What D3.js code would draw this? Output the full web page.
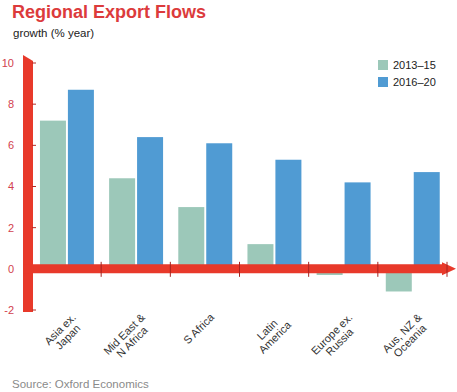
<!DOCTYPE html>
<html>
<head>
<meta charset="utf-8">
<script src="https://cdn.jsdelivr.net/npm/d3@7"></script>
<style>
  body { margin: 0; background: #fff; }
  svg { display: block; font-family: "Liberation Sans", Arial, sans-serif; }
</style>
</head>
<body>
<svg width="457" height="392"></svg>
<script>
// data
const categories = [
    ["Asia ex.", "Japan"],
    ["Mid East &", "N Africa"],
    ["S Africa"],
    ["Latin", "America"],
    ["Europe ex.", "Russia"],
    ["Aus, NZ &", "Oceania"]
];
const seriesNames = ["2013–15", "2016–20"];
const values2013 = [7.2, 4.4, 3.0, 1.2, -0.3, -1.1];
const values2016 = [8.7, 6.4, 6.1, 5.3, 4.2, 4.7];
const yTicks = [-2, 0, 2, 4, 6, 8, 10];

const colors = { "2013–15": "#9cc8b9", "2016–20": "#509bd3" };
const red = "#e8392a";

const svg = d3.select("svg");

const rows = categories.map((c, i) => ({
    key: c.join(" "),
    lines: c,
    vals: [values2013[i], values2016[i]]
}));

const x0 = d3.scaleBand()
    .domain(rows.map(d => d.key))
    .range([32, 447]);

const bw = x0.bandwidth();
const x1 = d3.scaleBand()
    .domain(seriesNames)
    .range([bw * 0.115, bw * 0.895])
    .paddingInner(0.07);

const y = d3.scaleLinear()
    .domain([-2, 10])
    .range([310, 63]);

// title + subtitle
svg.append("text")
    .attr("x", 12).attr("y", 18)
    .style("font-size", "18px")
    .style("font-weight", "bold")
    .style("fill", "#dc3b3c")
    .text("Regional Export Flows");

svg.append("text")
    .attr("x", 13).attr("y", 37)
    .style("font-size", "11.5px")
    .style("fill", "#222")
    .text("growth (% year)");

// bars
const groups = svg.append("g")
    .selectAll("g")
    .data(rows)
    .enter()
    .append("g")
    .attr("transform", d => `translate(${x0(d.key)},0)`);

groups.selectAll("rect")
    .data(d => d.vals.map((v, i) => ({ name: seriesNames[i], v })))
    .enter()
    .append("rect")
    .attr("x", d => x1(d.name))
    .attr("width", x1.bandwidth())
    .attr("y", d => y(Math.max(0, d.v)))
    .attr("height", d => Math.abs(y(d.v) - y(0)))
    .style("fill", d => colors[d.name]);

// y axis: thick red bar with slanted top
const yAxisG = svg.append("g");
yAxisG.append("path")
    .attr("d", `M23,${y(10) - 8}L33,${y(10) - 2}L33,${y(-2) + 2}L23,${y(-2) + 2}Z`)
    .style("fill", red);

yAxisG.selectAll("line")
    .data(yTicks)
    .enter()
    .append("line")
    .attr("x1", 32).attr("x2", 36)
    .attr("y1", d => y(d)).attr("y2", d => y(d))
    .style("stroke", "#b52a25")
    .style("stroke-width", 1);

yAxisG.selectAll("text")
    .data(yTicks)
    .enter()
    .append("text")
    .attr("x", 14)
    .attr("y", d => y(d))
    .attr("dy", "0.35em")
    .attr("text-anchor", "end")
    .style("font-size", "11px")
    .style("fill", "#d2414e")
    .text(d => d);

// x axis: thick red bar with arrow head
const y0 = y(0);
svg.append("path")
    .attr("d", `M23,${y0 - 4.5}L442,${y0 - 4.5}L442,${y0 - 6.5}L456,${y0}L442,${y0 + 6.5}L442,${y0 + 4.5}L23,${y0 + 4.5}Z`)
    .style("fill", red);

const bounds = rows.slice(1).map(d => x0(d.key)).concat([x0.range()[1]]);
svg.append("g")
    .selectAll("line")
    .data(bounds)
    .enter()
    .append("line")
    .attr("x1", d => d).attr("x2", d => d)
    .attr("y1", y0 - 7).attr("y2", y0 + 8)
    .style("stroke", "#a8231f")
    .style("stroke-width", 1);

// category labels, rotated, lines centred on each other
const lineH = 11;
const labels = svg.append("g")
    .selectAll("g")
    .data(rows)
    .enter()
    .append("g")
    .attr("transform", d => `translate(${x0(d.key) + bw / 2 + 10},318) rotate(-45)`);

labels.each(function(d) {
    const g = d3.select(this);
    const texts = g.selectAll("text")
        .data(d.lines)
        .enter()
        .append("text")
        .attr("y", (l, i) => i * lineH)
        .attr("text-anchor", "middle")
        .style("font-size", "11px")
        .style("fill", "#333")
        .text(l => l);
    const maxW = d3.max(texts.nodes(), n => n.getComputedTextLength());
    texts.attr("x", -maxW / 2);
});

// legend
const legend = svg.append("g")
    .selectAll("g")
    .data(seriesNames)
    .enter()
    .append("g")
    .attr("transform", (d, i) => `translate(378,${60 + i * 17})`);

legend.append("rect")
    .attr("width", 10).attr("height", 10)
    .style("fill", d => colors[d]);

legend.append("text")
    .attr("x", 15).attr("y", 9)
    .style("font-size", "11px")
    .style("fill", "#222")
    .text(d => d);

// source
svg.append("text")
    .attr("x", 12).attr("y", 388)
    .style("font-size", "11.5px")
    .style("fill", "#8a8a8a")
    .text("Source: Oxford Economics");
</script>
</body>
</html>
